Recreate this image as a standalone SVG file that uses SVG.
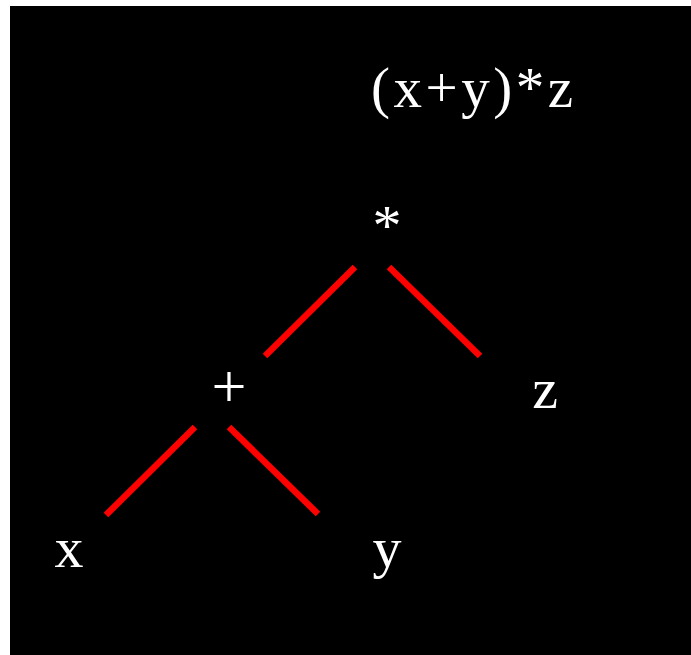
<svg xmlns="http://www.w3.org/2000/svg" width="691" height="655" viewBox="0 0 691 655">
<style>
.lbl{font-family:"Liberation Serif","Times New Roman",serif;font-size:58px;fill:#ffffff;text-anchor:middle}
.edge{stroke:#ff0000;stroke-width:6.5;stroke-linecap:butt;fill:none}
</style>
<rect x="0" y="0" width="691" height="655" fill="#ffffff"/>
<rect x="10" y="6" width="681" height="649" fill="#000000"/>
<text id="title" x="371" y="107" font-family="Liberation Serif, Times New Roman, serif" font-size="57" fill="#ffffff" textLength="202" lengthAdjust="spacing">(x+y)*z</text>
<g id="connectors">
<line class="edge" x1="355" y1="267" x2="265" y2="356"/>
<line class="edge" x1="389" y1="267" x2="480" y2="356"/>
<line class="edge" x1="195" y1="427" x2="106" y2="515"/>
<line class="edge" x1="229" y1="427" x2="318" y2="514"/>
</g>
<g id="node-mul"><text class="lbl" x="387" y="245">*</text></g>
<g id="node-plus"><text class="lbl" x="229" y="407" style="font-size:62px">+</text></g>
<g id="node-z"><text class="lbl" x="545" y="408">z</text></g>
<g id="node-x"><text class="lbl" x="69" y="567">x</text></g>
<g id="node-y"><text class="lbl" x="387" y="567">y</text></g>
</svg>
